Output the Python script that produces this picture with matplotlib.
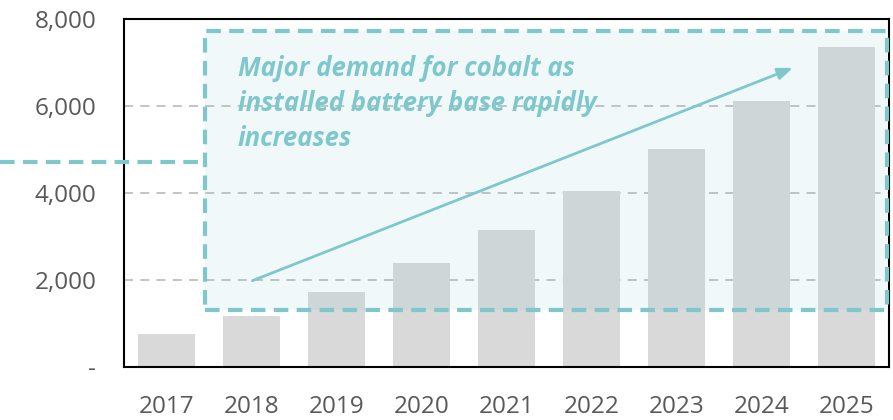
import matplotlib
matplotlib.use('Agg')
import matplotlib.pyplot as plt
from matplotlib.patches import Rectangle
from matplotlib.lines import Line2D

plt.rcParams['font.family'] = ['Open Sans', 'DejaVu Sans']

# data
years = ['2017', '2018', '2019', '2020', '2021', '2022', '2023', '2024', '2025']
demand = [750, 1170, 1720, 2380, 3150, 4040, 5010, 6120, 7350]
y_ticks = [0, 2000, 4000, 6000, 8000]
y_tick_labels = ['-', '2,000', '4,000', '6,000', '8,000']

teal = '#7EC8CC'
grey_text = '#595959'

fig = plt.figure(figsize=(8.93, 4.20), dpi=100)
ax = fig.add_axes([0.1389, 0.1262, 0.8566, 0.8286])

x = range(len(years))
ax.bar(x, demand, width=0.67, color='#D9D9D9', zorder=2)

ax.set_xlim(-0.5, len(years) - 0.5)
ax.set_ylim(0, 8000)
ax.set_xticks(list(x))
ax.set_xticklabels(years)
ax.set_yticks(y_ticks)
ax.set_yticklabels(y_tick_labels)
ax.tick_params(axis='both', length=0, labelsize=17.5, colors=grey_text)
ax.tick_params(axis='x', pad=20)
ax.tick_params(axis='y', pad=20)

for t in y_ticks[1:-1]:
    ax.axhline(t, color='#BFBFBF', lw=1.3, ls=(0, (5, 4)), zorder=1)

for s in ax.spines.values():
    s.set_color('black')
    s.set_linewidth(1.5)

# highlight box
box = Rectangle((0.453, 1310), 8.023, 6414, facecolor='#6FBFD0', alpha=0.1,
                edgecolor='none', zorder=3, clip_on=False)
ax.add_patch(box)
box_edge = Rectangle((0.453, 1310), 8.023, 6414, facecolor='none',
                     edgecolor=teal, lw=3, ls=(0, (3.5, 2)), zorder=4,
                     clip_on=False)
ax.add_patch(box_edge)

# connector line to the left edge
fig.add_artist(Line2D([0, 205 / 893], [1 - 162 / 420, 1 - 162 / 420],
                      color=teal, lw=3, ls=(0, (3.5, 2))))

# trend arrow
ax.annotate('', xy=(7.4, 6900), xytext=(0.98, 1960),
            arrowprops=dict(arrowstyle='-|>,head_length=0.9,head_width=0.35',
                            color=teal, lw=2), zorder=5)

ax.text(0.84, 7180, 'Major demand for cobalt as\ninstalled battery base rapidly\nincreases',
        color=teal, fontsize=18.5, fontweight='bold', fontstyle='italic',
        va='top', ha='left', linespacing=1.4, zorder=6)

fig.savefig('out.png', dpi=100)
